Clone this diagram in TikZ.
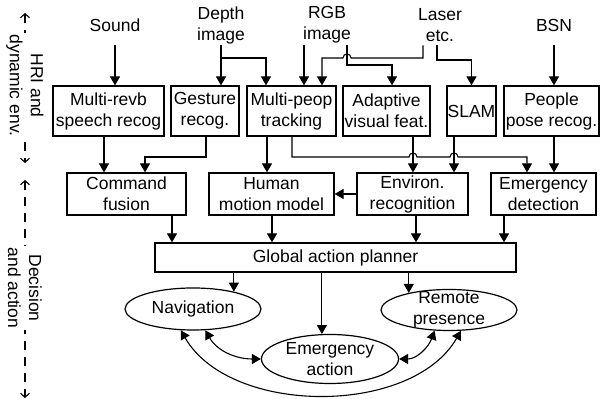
\documentclass[tikz,border=0pt]{standalone}
\usepackage{fontspec}
\setmainfont{Liberation Sans}
\usepackage{tikz}
\usetikzlibrary{arrows.meta,shapes.geometric}

\tikzset{
  box/.style={draw, line width=0.6pt, inner sep=0pt, align=center},
  oval/.style={draw, ellipse, line width=0.6pt, inner sep=0pt},
  lbl/.style={inner sep=0pt, minimum height=20pt, align=center},
  side/.style={rotate=-90, fill=white, inner sep=1pt, align=center},
  arr/.style={-{Triangle[length=4.5pt,width=5pt]}, line width=0.55pt},
  dbl/.style={{Triangle[length=4.5pt,width=5pt]}-{Triangle[length=4.5pt,width=5pt]}, line width=0.55pt},
  span/.style={dash pattern=on 4.5pt off 3.5pt, {Straight Barb[length=2pt,width=4.5pt]}-{Straight Barb[length=2pt,width=4.5pt]}, line width=0.55pt}
}

\begin{document}
\begin{tikzpicture}[x=0.5pt, y=-0.5pt, font=\fontsize{8.75}{10.5}\selectfont]
  \useasboundingbox (0,0) rectangle (601,399);

  \node[lbl] (sound) at (115,25) {Sound};
  \node[lbl] (depth) at (221,25) {Depth\\image};
  \node[lbl] (rgb) at (327,25) {RGB\\image};
  \node[lbl] (laser) at (440,25) {Laser\\etc.};
  \node[lbl] (bsn) at (554,25) {BSN};

  \node[box, minimum width=55.5pt, minimum height=25pt] (sp) at (108.5,111) {Multi-revb\\speech recog};
  \node[box, minimum width=34pt, minimum height=25pt] (ge) at (205,111) {Gesture\\recog.};
  \node[box, minimum width=44.5pt, minimum height=25pt] (tr) at (291.5,111) {Multi-peop\\tracking};
  \node[box, minimum width=43.5pt, minimum height=25pt] (av) at (386.5,111) {Adaptive\\visual feat.};
  \node[box, minimum width=24.5pt, minimum height=25pt] (slam) at (471.5,111) {SLAM};
  \node[box, minimum width=47.5pt, minimum height=25pt] (pose) at (551.5,111) {People\\pose recog.};

  \node[box, minimum width=59.5pt, minimum height=21pt] (fu) at (126.5,194) {Command\\fusion};
  \node[box, minimum width=62.5pt, minimum height=21pt] (hm) at (271.5,194) {Human\\motion model};
  \node[box, minimum width=55.5pt, minimum height=21pt] (en) at (412.5,194) {Environ.\\recognition};
  \node[box, minimum width=52.5pt, minimum height=21pt] (ed) at (543.5,194) {Emergency\\detection};

  \node[box, minimum width=180.5pt, minimum height=14.5pt] (gp) at (335.5,257.5) {Global action planner};

  \node[oval, minimum width=68pt, minimum height=21pt, label={center:Navigation}] (nav) at (193,309) {};
  \node[oval, minimum width=68.5pt, minimum height=24.5pt, label={[align=center]center:Emergency\\action}] (ea) at (330,359) {};
  \node[oval, minimum width=68pt, minimum height=20.5pt, label={[align=center]center:Remote\\presence}] (rp) at (449,310) {};

  \draw[arr] (sound.south) -- (sound.south |- sp.north);
  \draw[arr] (depth.south) -- (depth.south |- ge.north);
  \draw[arr] (depth.south) -- (221,58) -| (tr.north -| 266,0);
  \draw[arr] (rgb.south -| 304,0) -- (tr.north -| 304,0);
  \draw[arr] (rgb.south -| 347,0) -- (347,65) -| (av.north -| 392,0);
  \draw[arr] (laser.south -| 423,0) -- (423,58) -- (351,58)
    .. controls (351,52.7) and (343,52.7) .. (343,58) -- (322,58) -- (tr.north -| 322,0);
  \draw[arr] (laser.south -| 437,0) -- (437,60) -| (slam.north);
  \draw[arr] (bsn.south) -- (bsn.south |- pose.north);

  \draw[arr] (sp.south -| 104,0) -- (fu.north -| 104,0);
  \draw[arr] (ge.south -| 206,0) -- (206,157) -| (fu.north -| 145,0);
  \draw[arr] (tr.south -| 267,0) -- (hm.north -| 267,0);
  \draw[arr] (tr.south -| 292,0) -- (292,157) -- (409,157)
    .. controls (409,151.7) and (417,151.7) .. (417,157) -- (450,157)
    .. controls (450,151.7) and (458,151.7) .. (458,157) -- (527,157) -- (ed.north -| 527,0);
  \draw[arr] (av.south -| 413,0) -- (en.north -| 413,0);
  \draw[arr] (slam.south -| 454,0) -- (en.north -| 454,0);
  \draw[arr] (pose.south -| 554,0) -- (ed.north -| 554,0);
  \draw[arr] (en.west) -- (hm.east);

  \draw[arr] (fu.south -| 172,0) -- (gp.north -| 172,0);
  \draw[arr] (hm.south -| 272,0) -- (gp.north -| 272,0);
  \draw[arr] (en.south -| 416,0) -- (gp.north -| 416,0);
  \draw[arr] (ed.south -| 504,0) -- (gp.north -| 504,0);

  \draw[arr] (gp.south -| nav.23) -- (nav.23);
  \draw[arr] (gp.south -| ea.108) -- (ea.108);
  \draw[arr] (gp.south -| rp.157) -- (rp.157);

  \draw[dbl] (nav.-60) to[out=-60, in=180] (ea.west);
  \draw[dbl] (ea.east) to[out=0, in=-110] (rp.-125);
  \draw[dbl] (nav.-120) to[out=-60, in=-120, looseness=0.9] (rp.-60);

  \coordinate (h1) at (25,13);
  \coordinate (h2) at (25,163);
  \coordinate (d1) at (25,180);
  \coordinate (d2) at (25,398);
  \draw[span] (h1) -- (h2);
  \draw[span] (d1) -- (d2);
  \node[side] (hri) at (25,85.5) {HRI and\\dynamic env.};
  \node[side] (dec) at (25,288) {Decision\\and action};
\end{tikzpicture}
\end{document}
